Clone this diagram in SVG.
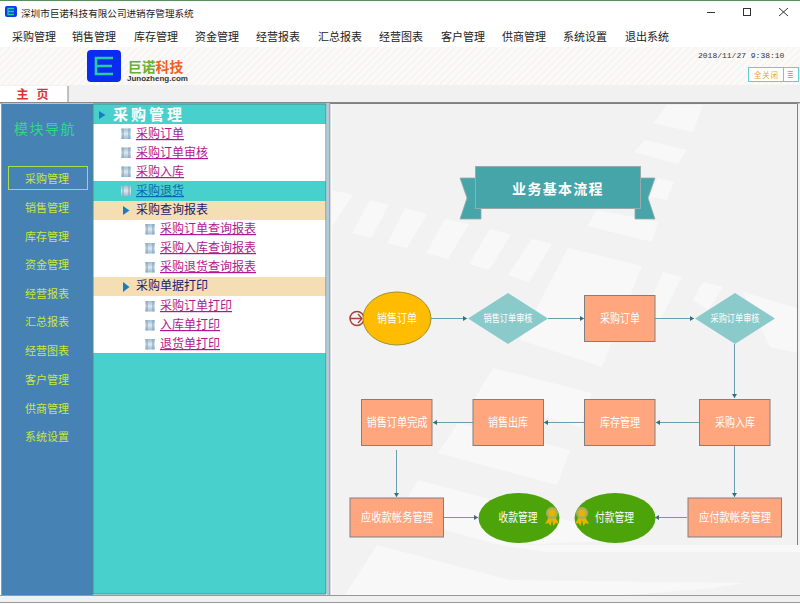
<svg xmlns="http://www.w3.org/2000/svg" width="800" height="604" viewBox="0 0 800 604">
<style>
text{font-family:"Noto Sans CJK SC","Liberation Sans",sans-serif}
.m{font-size:11px;fill:#222}
.nav{font-size:11px;fill:#c8e83c;text-anchor:middle}
.lk{font-size:12px;fill:#b01890;text-decoration:underline}
.hd{font-size:12px;fill:#1a1a70}
.n{fill:#fff;font-size:12px;text-anchor:middle}
.d{fill:#fff;font-size:10px;text-anchor:middle}
.box{fill:#ffa67e;stroke:#808080;stroke-width:1}
.c{fill:none;stroke:#6a9cac;stroke-width:1;marker-end:url(#a)}
.bg{fill:#f8f8f8}
</style>
<defs>
<marker id="a" markerWidth="6" markerHeight="6" refX="4" refY="2.500" orient="auto"><path d="M0 0L4 2.500L0 5Z" fill="#2f6f80"/></marker>
<pattern id="h" width="5" height="5" patternUnits="userSpaceOnUse" patternTransform="rotate(45)"><rect width="5" height="5" fill="#fbfaf9"/><rect width="1.200" height="5" fill="#f5f2ef"/></pattern>
<linearGradient id="ig" x1="0" y1="0" x2="0" y2="1"><stop offset="0" stop-color="#a0bcd0"/><stop offset=".5" stop-color="#dce8f0"/><stop offset="1" stop-color="#a0bcd0"/></linearGradient>
<g id="ic"><rect width="10" height="10.500" fill="url(#ig)"/><path d="M2 0V10.500M8 0V10.500" stroke="#7f9fb8" stroke-width="1"/></g>
<g id="md"><path d="M-2-1L-7 8L-3.500 7L-1.500 10L0 4L1.500 10L3.500 7L7 8L2-1Z" fill="#e8b400"/><circle cx="0" cy="-3" r="6" fill="#a8ae60"/><circle cx="0" cy="-3" r="3.500" fill="#e8b400"/></g>
</defs>
<rect width="800" height="604" fill="#fff"/>
<rect width="800" height="1" fill="#5a8f5a"/>
<g id="titlebar">
<rect x="5" y="6" width="12" height="11" rx="2" fill="#0a3ce8"/><path d="M14 8.500H8V14.500H14M8 11.500H14" fill="none" stroke="#25d0a0" stroke-width="1.300"/>
<text x="21" y="16.500" font-size="9.600" fill="#222">深圳市巨诺科技有限公司进销存管理系统</text>
<path d="M707 12.500H715" stroke="#333"/><rect x="743.500" y="8.500" width="7" height="7" fill="none" stroke="#333"/><path d="M779 8L788 16M788 8L779 16" stroke="#333"/>
</g>
<g id="menu">
<text class="m" x="12" y="41">采购管理</text><text class="m" x="72" y="41">销售管理</text><text class="m" x="134" y="41">库存管理</text><text class="m" x="195" y="41">资金管理</text><text class="m" x="256" y="41">经营报表</text><text class="m" x="318" y="41">汇总报表</text><text class="m" x="379" y="41">经营图表</text><text class="m" x="441" y="41">客户管理</text><text class="m" x="502" y="41">供商管理</text><text class="m" x="563" y="41">系统设置</text><text class="m" x="625" y="41">退出系统</text>
</g>
<g id="banner">
<rect x="0" y="47" width="800" height="38" fill="url(#h)"/>
<rect x="87" y="50" width="34" height="32" rx="4" fill="#0a2cf0"/><path d="M113 58H96V74H113M96 66H112" fill="none" stroke="#20d0a0" stroke-width="2.600"/>
<text x="128" y="71.500" font-size="13.800" font-weight="700" fill="#6ab030">巨诺<tspan fill="#f06020">科技</tspan></text>
<text x="127" y="81" font-size="8" font-weight="700" fill="#333" style="font-family:'Liberation Sans',sans-serif">Junozheng.com</text>
<text x="698" y="58" font-size="8" fill="#333" style="font-family:'Liberation Mono',monospace">2018/11/27 9:38:10</text>
<rect x="748.500" y="67.500" width="35" height="14" fill="#fff" stroke="#60d0d8"/><rect x="783.500" y="67.500" width="15" height="14" fill="#fff" stroke="#60d0d8"/>
<text x="754" y="78" font-size="7.500" letter-spacing=".8" fill="#e8a030">全关闭</text><text x="787" y="78" font-size="8" style="fill:#e8a030">≣</text>
</g>
<g id="tabs">
<rect x="0" y="85" width="800" height="18" fill="#f1f1f1"/>
<rect x="0" y="86" width="68" height="16" fill="#fff"/><path d="M68 86V102" stroke="#888" stroke-width="1"/>
<text x="16.500" y="99" font-size="12" font-weight="700" fill="#e03030">主</text><text x="36.500" y="99" font-size="12" font-weight="700" fill="#e03030">页</text>
<rect x="0" y="102" width="800" height="1.500" fill="#888"/>
</g>
<g id="nav">
<rect x="1" y="103" width="1" height="492" fill="#999"/>
<rect x="2" y="104" width="91" height="491" fill="#4682b4"/>
<text x="45" y="134" text-anchor="middle" font-size="14" letter-spacing="1.500" fill="#30d888">模块导航</text>
<rect x="8.500" y="166.500" width="79" height="23" fill="none" stroke="#a8e050"/>
<text class="nav" x="47" y="183">采购管理</text><text class="nav" x="47" y="212">销售管理</text><text class="nav" x="47" y="241">库存管理</text><text class="nav" x="47" y="269">资金管理</text><text class="nav" x="47" y="298">经营报表</text><text class="nav" x="47" y="326">汇总报表</text><text class="nav" x="47" y="355">经营图表</text><text class="nav" x="47" y="384">客户管理</text><text class="nav" x="47" y="413">供商管理</text><text class="nav" x="47" y="441">系统设置</text>
</g>
<g id="tree">
<rect x="93" y="104" width="233" height="490" fill="#48d1cc"/>
<rect x="93" y="124" width="233" height="57" fill="#fff"/>
<rect x="93" y="201" width="233" height="19" fill="#f5deb3"/>
<rect x="93" y="220" width="233" height="57" fill="#fff"/>
<rect x="93" y="277" width="233" height="19" fill="#f5deb3"/>
<rect x="93" y="296" width="233" height="57" fill="#fff"/>
<path d="M93 104H326V594H93Z" fill="none" stroke="#4a8a90"/>
<rect x="327" y="104" width="3" height="491" fill="#b8c8dc"/>
<path d="M99 111L105.500 115L99 119Z" fill="#1c7cc0"/>
<text x="113" y="120" font-size="15" font-weight="700" letter-spacing="3" fill="#fff">采购管理</text>
<path d="M123 206L129.500 210.500L123 215Z" fill="#1c7cc0"/><path d="M123 282L129.500 287L123 292Z" fill="#1c7cc0"/>
<use href="#ic" x="121" y="128.500"/><use href="#ic" x="121" y="147.500"/><use href="#ic" x="121" y="166.500"/><use href="#ic" x="121" y="185.500"/>
<use href="#ic" x="145" y="224"/><use href="#ic" x="145" y="243"/><use href="#ic" x="145" y="262"/><use href="#ic" x="145" y="301"/><use href="#ic" x="145" y="320"/><use href="#ic" x="145" y="339"/>
<text class="lk" x="136" y="138">采购订单</text><text class="lk" x="136" y="157">采购订单审核</text><text class="lk" x="136" y="176">采购入库</text>
<text class="lk" x="136" y="195" style="fill:#0868b8">采购退货</text>
<text class="hd" x="136" y="214">采购查询报表</text>
<text class="lk" x="160" y="233">采购订单查询报表</text><text class="lk" x="160" y="252">采购入库查询报表</text><text class="lk" x="160" y="271">采购退货查询报表</text>
<text class="hd" x="136" y="290">采购单据打印</text>
<text class="lk" x="160" y="310">采购订单打印</text><text class="lk" x="160" y="329">入库单打印</text><text class="lk" x="160" y="348">退货单打印</text>
</g>
<g id="canvas">
<rect x="330" y="104" width="470" height="491" fill="#f2f2f2"/>
<path d="M330 595V103.500H797.500V545" fill="none" stroke="#808080" stroke-width="1"/>
<rect x="330.500" y="104" width="1.500" height="491" fill="#f8fbfd"/>
<path class="bg" d="M667 105H703L693 132L653 123Z"/>
<path class="bg" d="M645 140L687 150L678 164L634 152Z"/>
<path class="bg" d="M658 178L674 182L667 200L650 197Z"/>
<path class="bg" d="M597 210L658 222L652 242L587 226Z"/>
<path class="bg" d="M568 248L642 266L602 367L520 340Z"/>
<path class="bg" d="M331 190L353 195L331 228Z"/>
<path class="bg" d="M370 200L389 205L371 238L352 233Z"/>
<path class="bg" d="M405 208L427 214L407 248L387 243Z"/>
<path class="bg" d="M445 219L469 224L448 259L426 253Z"/>
<path class="bg" d="M490 229L511 235L489 270L469 264Z"/>
<path class="bg" d="M532 239L552 244L529 282L508 275Z"/>
<path class="bg" d="M663 272L682 277L660 320L645 312Z"/>
<path class="bg" d="M703 282L723 287L708 310L693 300Z"/>
<path class="bg" d="M743 292L797 308V353L770 347Z"/>
<path class="bg" d="M493 368L592 393L580 427L475 398Z"/>
<path class="bg" d="M458 423L570 450L557 485L438 453Z"/>
<path class="bg" d="M418 480L640 540L500 545L397 517Z"/>
<path class="bg" d="M500 545H800V552H545Z"/>
<path class="bg" d="M377 545L510 580L745 583L713 588L627 595H345Z"/>
</g>
<g id="connectors">
<path class="c" d="M431 318.500H467"/><path class="c" d="M548 318.500H584"/><path class="c" d="M655 318.500H694"/>
<path class="c" d="M734.500 344V398"/><path class="c" d="M699 422.500H656"/><path class="c" d="M584 422.500H544"/><path class="c" d="M473 422.500H433"/>
<path class="c" d="M396.500 450V497"/><path class="c" d="M444 517.500H478"/><path class="c" d="M734.500 445V497"/><path class="c" d="M687 517.500H655"/>
</g>
<g id="title"><path d="M460 178H476V208H481V219H460L467 198Z" fill="#45a5a8" stroke="#9aa" stroke-width=".8"/><path d="M655 178H640V208H635V219H655L648 198Z" fill="#45a5a8" stroke="#9aa" stroke-width=".8"/><rect x="475.500" y="166.500" width="165" height="42" fill="#45a5a8" stroke="#9aa"/><text x="558" y="194" text-anchor="middle" font-size="14" font-weight="700" letter-spacing="1.300" fill="#fff">业务基本流程</text></g>
<g id="n1"><circle cx="357" cy="318.500" r="7" fill="none" stroke="#a84038" stroke-width="1.500"/><path d="M350 318.500H362M358 314L362 318.500L358 323" fill="none" stroke="#a84038" stroke-width="1.300"/><ellipse cx="397" cy="318.500" rx="34" ry="26.500" fill="#ffbc00" stroke="#a09030"/><text class="n" x="397" y="322.500" textLength="40" lengthAdjust="spacingAndGlyphs">销售订单</text></g>
<g id="n2"><path d="M508 293L548 318.500L508 344L468 318.500Z" fill="#8acaca"/><text class="d" x="508" y="322" textLength="49" lengthAdjust="spacingAndGlyphs">销售订单审核</text></g>
<g id="n3"><rect class="box" x="584.500" y="295.500" width="70.500" height="46"/><text class="n" x="620" y="323" textLength="40" lengthAdjust="spacingAndGlyphs">采购订单</text></g>
<g id="n4"><path d="M735 293L775 318.500L735 344L695 318.500Z" fill="#8acaca"/><text class="d" x="735" y="322" textLength="49" lengthAdjust="spacingAndGlyphs">采购订单审核</text></g>
<g id="n5"><rect class="box" x="361.500" y="399.500" width="70.500" height="46"/><text class="n" x="397" y="426.500" textLength="61" lengthAdjust="spacingAndGlyphs">销售订单完成</text></g>
<g id="n6"><rect class="box" x="473" y="399.500" width="70.500" height="46"/><text class="n" x="508" y="426.500" textLength="40" lengthAdjust="spacingAndGlyphs">销售出库</text></g>
<g id="n7"><rect class="box" x="584.500" y="399.500" width="70.500" height="46"/><text class="n" x="620" y="426.500" textLength="40" lengthAdjust="spacingAndGlyphs">库存管理</text></g>
<g id="n8"><rect class="box" x="699.500" y="399.500" width="70.500" height="46"/><text class="n" x="735" y="426.500" textLength="40" lengthAdjust="spacingAndGlyphs">采购入库</text></g>
<g id="n9"><rect class="box" x="350" y="498" width="93.500" height="39"/><text class="n" x="397" y="521.500" textLength="72" lengthAdjust="spacingAndGlyphs">应收款帐务管理</text></g>
<g id="n10"><ellipse cx="519" cy="518" rx="40.500" ry="25" fill="#4ca40a"/><text class="n" x="518" y="522" textLength="39" lengthAdjust="spacingAndGlyphs">收款管理</text><use href="#md" x="552" y="516"/></g>
<g id="n11"><ellipse cx="615" cy="518" rx="40.500" ry="25" fill="#4ca40a"/><text class="n" x="614.500" y="522" textLength="39" lengthAdjust="spacingAndGlyphs">付款管理</text><use href="#md" x="582" y="516"/></g>
<g id="n12"><rect class="box" x="688" y="498" width="93.500" height="39"/><text class="n" x="735" y="521.500" textLength="72" lengthAdjust="spacingAndGlyphs">应付款帐务管理</text></g>
<g id="statusbar"><rect x="0" y="595" width="800" height="7" fill="#f0f0f0"/><rect x="0" y="595" width="800" height="1" fill="#999"/><rect x="0" y="602" width="800" height="1" fill="#999"/></g>
</svg>
